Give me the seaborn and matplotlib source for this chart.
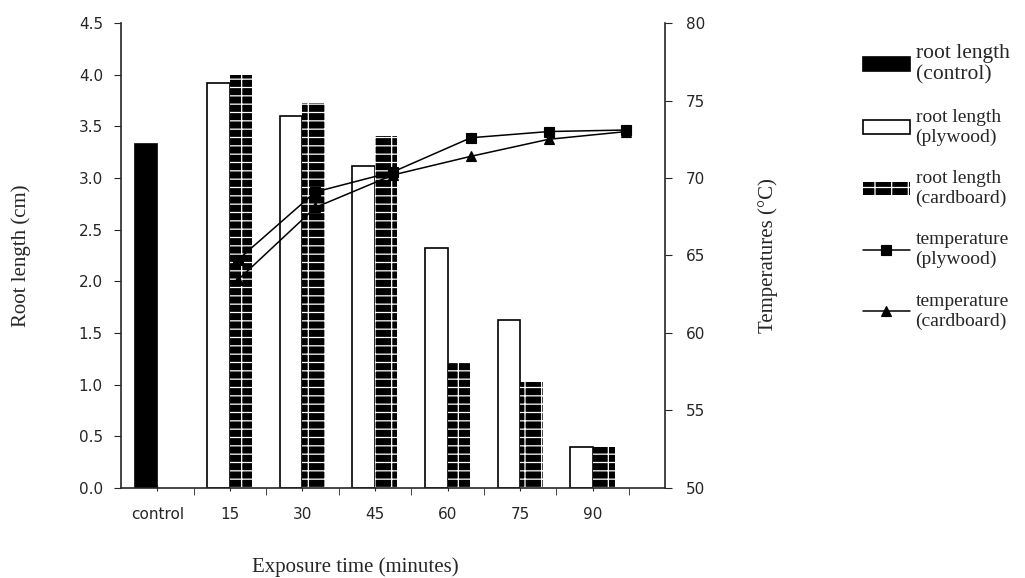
import pandas as pd
import matplotlib.pyplot as plt
import seaborn as sns
from matplotlib.ticker import MultipleLocator, FixedLocator

# categories on the x axis
times = ['control', '15', '30', '45', '60', '75', '90']

# root length (cm)
control_len = [3.33]
plywood_len = [3.92, 3.60, 3.12, 2.32, 1.63, 0.40]
cardboard_len = [4.00, 3.73, 3.41, 1.21, 1.02, 0.40]

# temperatures (deg C)
plywood_temp = [64.7, 69.1, 70.4, 72.6, 73.0, 73.1]
cardboard_temp = [63.4, 68.1, 70.2, 71.4, 72.5, 73.0]

legend_labels = ['root length\n(control)', 'root length\n(plywood)', 'root length\n(cardboard)',
                 'temperature\n(plywood)', 'temperature\n(cardboard)']

bars_df = pd.DataFrame({
    'time': times[:1] + times[1:] + times[1:],
    'length': control_len + plywood_len + cardboard_len,
    'material': ['plywood'] * 7 + ['cardboard'] * 6,
})
temp_df = pd.DataFrame({
    'time': times[1:] * 2,
    'temp': plywood_temp + cardboard_temp,
    'material': ['plywood'] * 6 + ['cardboard'] * 6,
})

sns.set_style('ticks')
plt.rcParams['hatch.linewidth'] = 0.9
serif = 'Liberation Serif'

fig = plt.figure(figsize=(10.25, 5.78), dpi=100)
ax = fig.add_axes([0.118, 0.156, 0.531, 0.804])

sns.barplot(data=bars_df, x='time', y='length', hue='material', order=times,
            hue_order=['plywood', 'cardboard'], width=0.62, dodge=True,
            palette={'plywood': 'white', 'cardboard': 'black'},
            edgecolor='black', linewidth=1.2, legend=False, ax=ax)

ply_bars = ax.containers[0]
card_bars = ax.containers[1]
# control bar sits in the plywood slot but is solid black
ply_bars[0].set_facecolor('black')
for p in card_bars:
    p.set_facecolor('black')
    p.set_edgecolor('white')
    p.set_linewidth(0)
    p.set_hatch('--|')

ax.set_xlim(-0.5, 7.0)
ax.set_ylim(0, 4.5)
ax.yaxis.set_major_locator(MultipleLocator(0.5))
ax.yaxis.set_major_formatter(plt.FormatStrFormatter('%.1f'))
ax.xaxis.set_minor_locator(FixedLocator([i + 0.5 for i in range(len(times))]))
ax.tick_params(axis='x', which='major', length=4, direction='inout', labelsize=11, pad=12)
ax.tick_params(axis='x', which='minor', length=5, direction='out')
ax.tick_params(axis='y', length=5, labelsize=11, pad=8)
for s in ['top', 'right']:
    ax.spines[s].set_visible(False)
for s in ['left', 'bottom']:
    ax.spines[s].set_linewidth(1.2)
ax.set_xlabel('Exposure time (minutes)', family=serif, fontsize=15)
ax.xaxis.set_label_coords(0.43, -0.15)
ax.set_ylabel('Root length (cm)', family=serif, fontsize=15)
ax.yaxis.set_label_coords(-0.165, 0.5)

# temperature lines on their own axes (spread over the full width)
ax2 = fig.add_axes(ax.get_position())
ax2.patch.set_visible(False)
sns.pointplot(data=temp_df, x='time', y='temp', hue='material', order=times,
              hue_order=['plywood', 'cardboard'], palette=['black', 'black'],
              markers=['s', '^'], linestyles=['-', '-'], errorbar=None,
              markersize=7, linewidth=1.1, legend=False, ax=ax2)
ax2.set_xlim(-0.5, 6.5)
ax2.set_ylim(50, 80)
ax2.yaxis.set_major_locator(MultipleLocator(5))
ax2.yaxis.tick_right()
ax2.yaxis.set_label_position('right')
ax2.xaxis.set_visible(False)
for s in ['top', 'left', 'bottom']:
    ax2.spines[s].set_visible(False)
ax2.spines['right'].set_linewidth(1.2)
ax2.tick_params(axis='y', length=5, labelsize=11, pad=10)
ax2.set_ylabel('Temperatures (°C)', family=serif, fontsize=15)
ax2.yaxis.set_label_coords(1.17, 0.5)

handles = [ply_bars[0], ply_bars[1], card_bars[0]] + ax2.lines[:2]
leg = fig.legend(handles, legend_labels, loc='upper left', bbox_to_anchor=(0.825, 0.955),
                 frameon=False, prop={'family': serif, 'size': 14},
                 labelspacing=1.25, handlelength=2.4, handletextpad=0.3)
leg.get_texts()[0].set_fontsize(15.5)

fig.savefig('out.png', dpi=100)
